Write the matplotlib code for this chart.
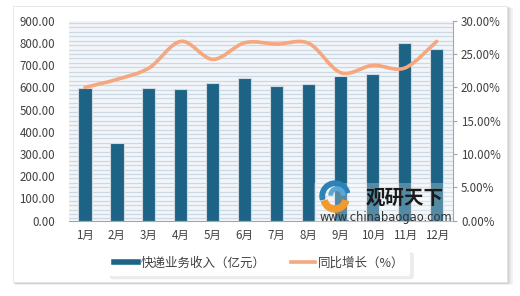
import matplotlib
matplotlib.use("Agg")
import matplotlib.pyplot as plt
import numpy as np
from matplotlib.path import Path
from matplotlib.patches import PathPatch, Rectangle, Wedge
from matplotlib.ticker import FuncFormatter, MultipleLocator
from matplotlib.lines import Line2D

plt.rcParams['font.family'] = ['Noto Sans CJK SC', 'DejaVu Sans']

months = ['1月', '2月', '3月', '4月', '5月', '6月', '7月', '8月', '9月', '10月', '11月', '12月']
revenue = [598, 349, 596, 591, 618, 642, 606, 615, 651, 659, 798, 771]
growth = [20.0, 21.2, 22.9, 26.9, 24.2, 26.7, 26.5, 26.6, 22.2, 23.3, 22.9, 26.9]
bar_label = '快递业务收入（亿元）'
line_label = '同比增长（%）'

BAR_C = '#1c6386'
LINE_C = '#f6a77d'
TXT_C = '#404040'

fig = plt.figure(figsize=(5.2, 2.96), dpi=100)
fig.patch.set_facecolor('white')

# outer frame with soft shadow
for i, a in enumerate([0.05, 0.06, 0.08]):
    d = (3 - i) / 520
    fig.patches.append(Rectangle((13/520 + d*0.5, 1 - 283/296 - d*1.2), 495/520 + d, 277/296,
                                 transform=fig.transFigure, facecolor='#000000', alpha=a,
                                 edgecolor='none', zorder=-3))
fig.patches.append(Rectangle((13/520, 1 - 282/296), 494/520, 276/296, transform=fig.transFigure,
                             facecolor='white', edgecolor='#e4e4e4', lw=0.6, zorder=-2))

ax = fig.add_axes([69/520, 1 - 220.7/296, (452.7 - 69)/520, 200/296])
ax.set_facecolor('#f3f6f9')
x = np.arange(len(months))

# striped plot-area background
for yv in np.arange(10, 900, 20):
    ax.axhline(yv, color='#ccd8e3', lw=0.9, zorder=0)

ax.bar(x, revenue, width=0.41, color=BAR_C, edgecolor='#d0dae3', linewidth=0.8, zorder=2)
ax.set_xlim(-0.5, 11.5)
ax.set_ylim(0, 900)
ax.yaxis.set_major_locator(MultipleLocator(100))
ax.yaxis.set_major_formatter(FuncFormatter(lambda v, p: f'{v:.2f}'))
ax.set_xticks(x)
ax.set_xticklabels(months)
ax.tick_params(axis='y', length=0, pad=10, labelsize=8.3, colors=TXT_C)
ax.tick_params(axis='x', length=0, pad=6, labelsize=8.3, colors=TXT_C)
for s in ['top', 'left', 'right']:
    ax.spines[s].set_visible(False)
ax.spines['bottom'].set_color('#a6a6a6')

ax2 = ax.twinx()
ax2.set_ylim(0, 30)
ax2.set_xlim(-0.5, 11.5)
ax2.yaxis.set_major_locator(MultipleLocator(5))
ax2.yaxis.set_major_formatter(FuncFormatter(lambda v, p: f'{v:.2f}%'))
ax2.tick_params(axis='y', length=3, width=0.8, color='#a6a6a6', pad=3, labelsize=8.3,
                labelcolor=TXT_C)
for s in ['top', 'left', 'bottom']:
    ax2.spines[s].set_visible(False)
ax2.spines['right'].set_color('#a6a6a6')

# smooth (Catmull-Rom) line through the data points
xs = list(x.astype(float))
ys = list(growth)
verts = [(xs[0], ys[0])]
codes = [Path.MOVETO]
n = len(xs)
for i in range(n - 1):
    p0 = (xs[i - 1], ys[i - 1]) if i > 0 else (xs[i], ys[i])
    p1 = (xs[i], ys[i])
    p2 = (xs[i + 1], ys[i + 1])
    p3 = (xs[i + 2], ys[i + 2]) if i + 2 < n else p2
    c1 = (p1[0] + (p2[0] - p0[0]) / 6, p1[1] + (p2[1] - p0[1]) / 6)
    c2 = (p2[0] - (p3[0] - p1[0]) / 6, p2[1] - (p3[1] - p1[1]) / 6)
    verts += [c1, c2, p2]
    codes += [Path.CURVE4] * 3
ax2.add_patch(PathPatch(Path(verts, codes), facecolor='none', edgecolor=LINE_C, lw=2.6,
                        capstyle='round', zorder=3))

# legend
handles = [Line2D([], [], color=BAR_C, lw=4), Line2D([], [], color=LINE_C, lw=2.6)]
leg = fig.legend(handles, [bar_label, line_label], ncol=2, loc='center',
                 bbox_to_anchor=(259/520, 1 - 263/296), frameon=True, fontsize=9,
                 handlelength=1.9, handletextpad=0.25, columnspacing=2.0, borderpad=0.5,
                 labelcolor=TXT_C, shadow={'color': '#e6e6e6', 'alpha': 0.7})
leg.get_frame().set_edgecolor('none')
leg.get_frame().set_facecolor('white')

# watermark
fig.patches.append(Rectangle((314/520, 1 - 223/296), 139/520, 40/296, transform=fig.transFigure,
                             facecolor='white', alpha=0.25, edgecolor='none', zorder=4))
cx, cy = 335 / 100, (296 - 197) / 100
fig.patches.append(Wedge((cx, cy + 0.01), 0.15, 15, 195, width=0.045, color='#2b82b8',
                         transform=fig.dpi_scale_trans, zorder=5))
fig.patches.append(Wedge((cx + 0.02, cy + 0.02), 0.08, 0, 180, width=0.035, color='#5aa7d6',
                         transform=fig.dpi_scale_trans, zorder=5))
fig.patches.append(Wedge((cx, cy - 0.01), 0.14, 195, 345, width=0.06, color='#f29a2e',
                         transform=fig.dpi_scale_trans, zorder=5))
fig.text(405/520, 1 - 198/296, '观研天下', fontsize=14, fontweight='bold', color='#1a1a1a',
         ha='center', va='center', zorder=6)
fig.text(386/520, 1 - 217/296, 'www.chinabaogao.com', fontsize=8.3, color='#333333',
         ha='center', va='center', family=['DejaVu Sans'], zorder=6)

fig.savefig('out.png', dpi=100)
